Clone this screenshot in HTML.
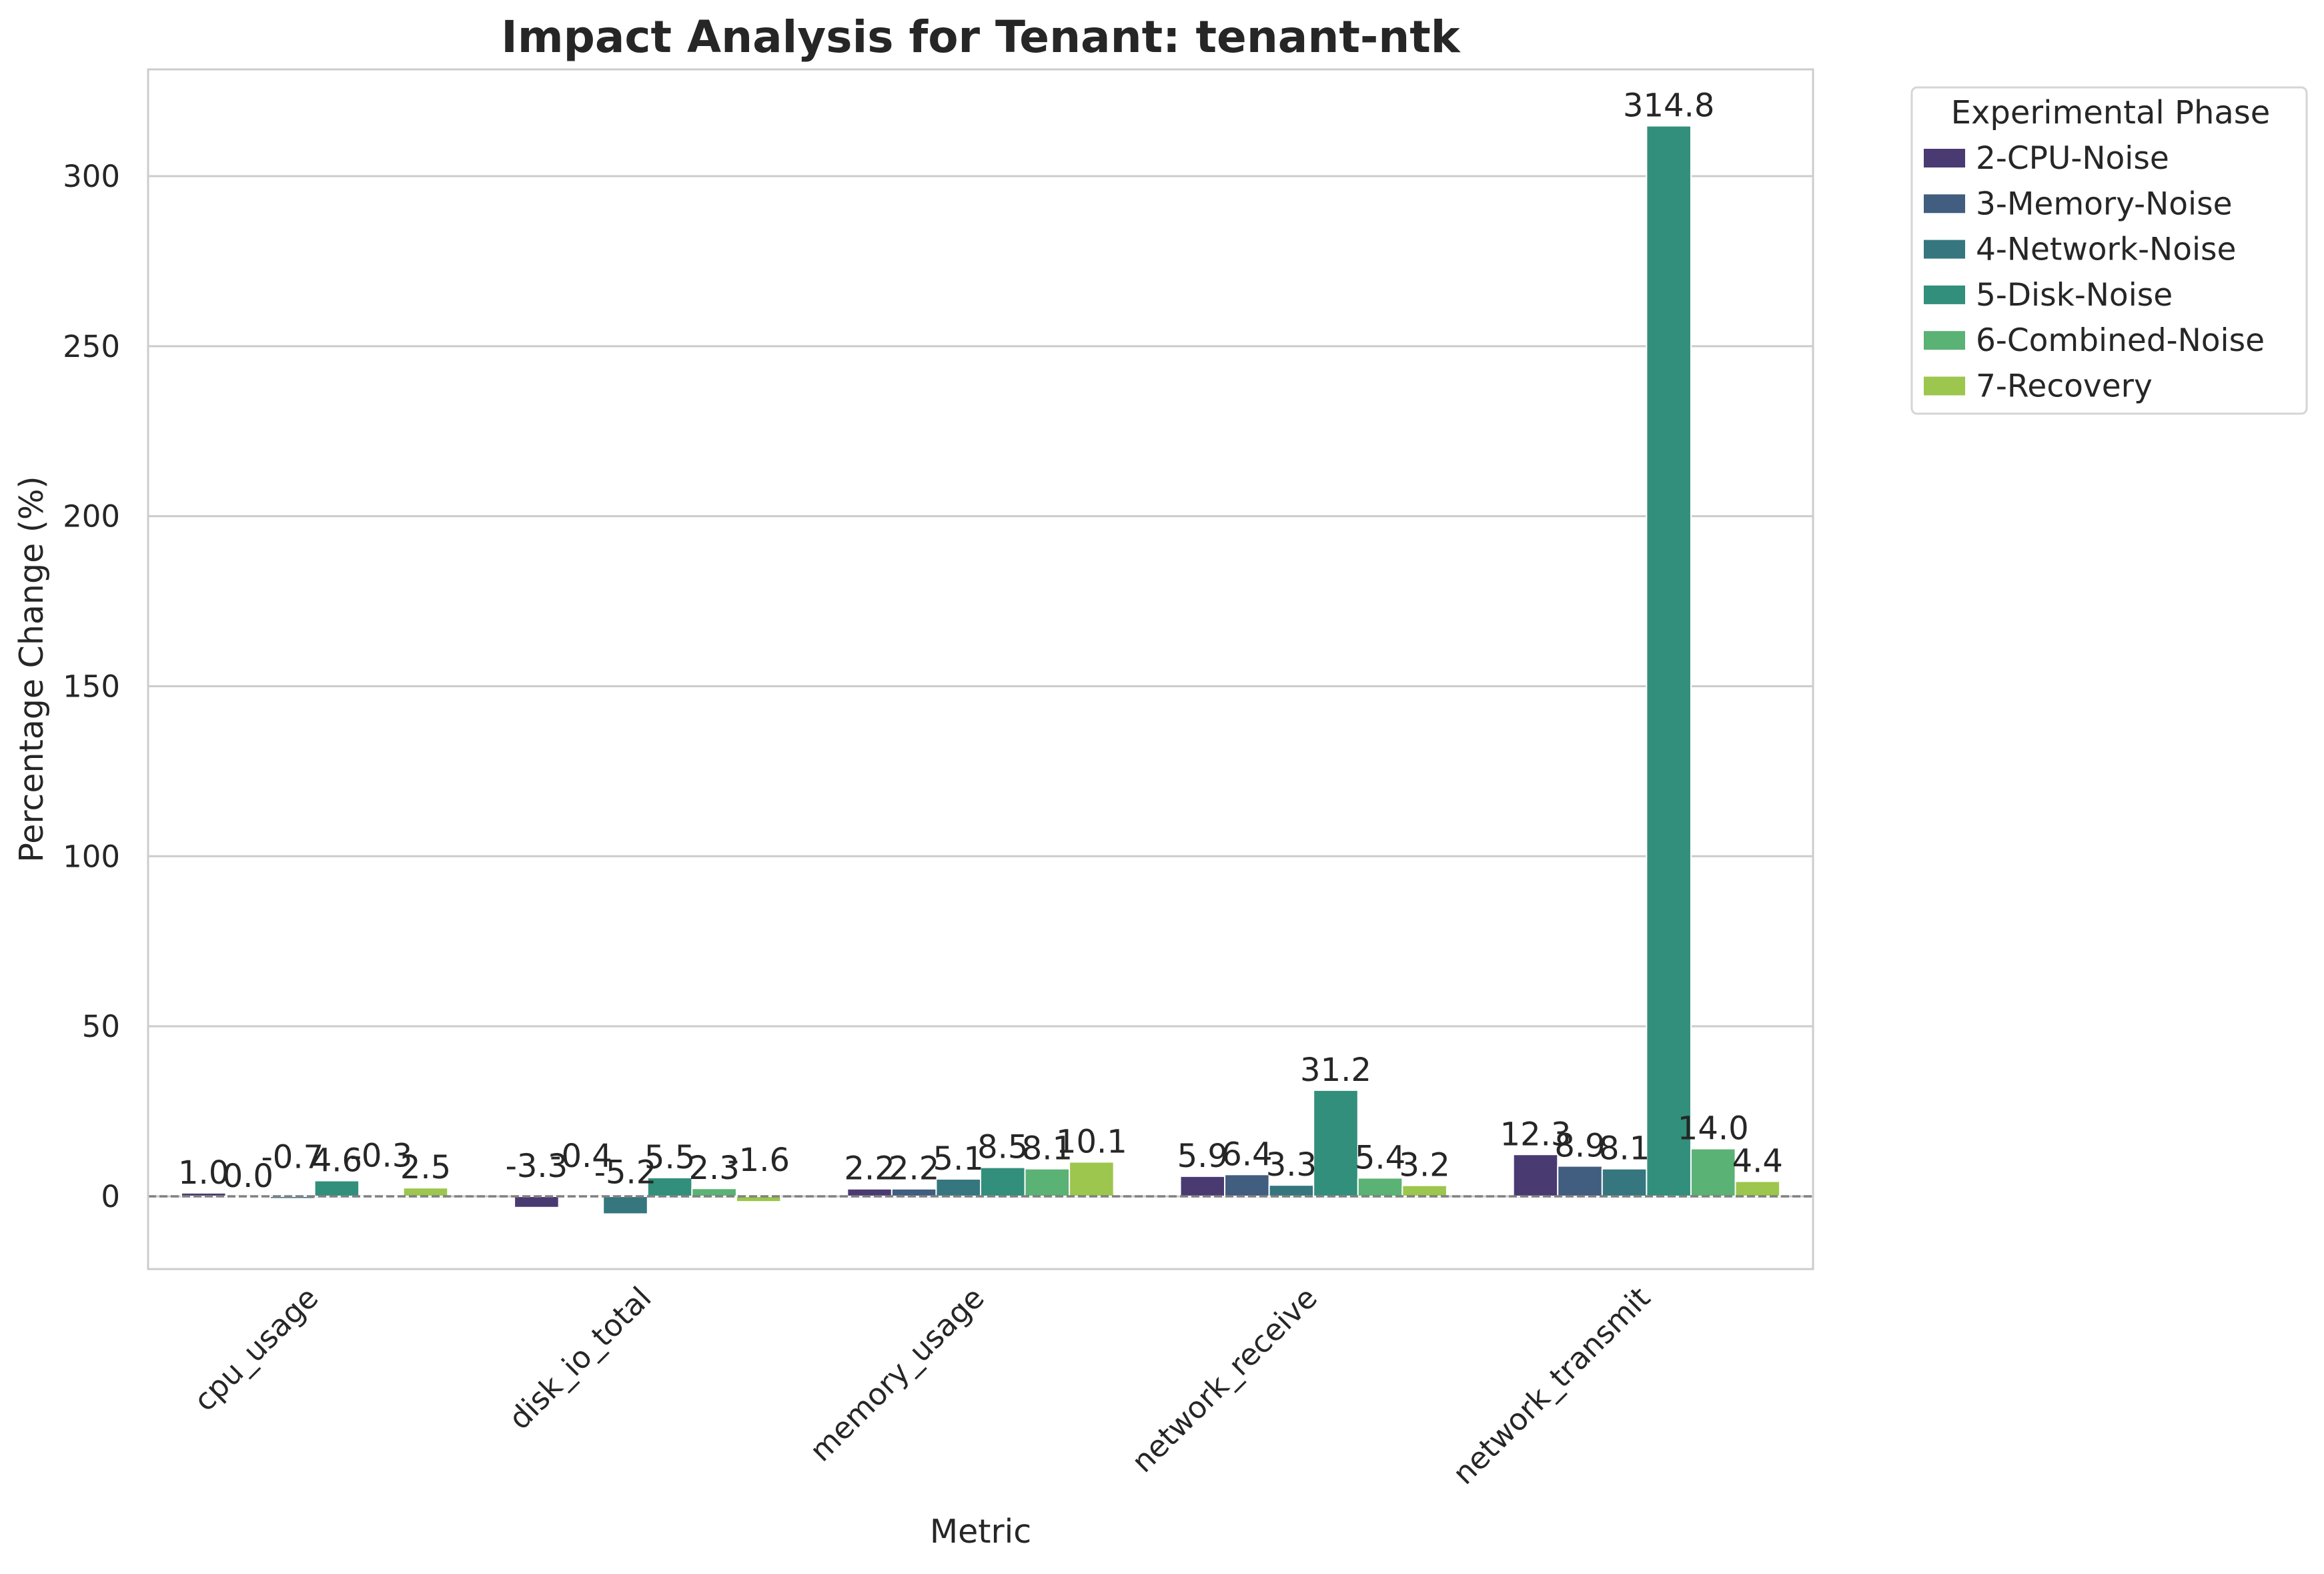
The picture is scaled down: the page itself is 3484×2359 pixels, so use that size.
<!DOCTYPE html>
<html><head><meta charset="utf-8"><style>
html,body{margin:0;padding:0;background:#fff;}
svg text{font-family:"DejaVu Sans","Liberation Sans",sans-serif;fill:#262626;}
</style></head><body>
<svg id="chart" width="3484" height="2354" xmlns="http://www.w3.org/2000/svg">
<rect x="0" y="0" width="3484" height="2354" fill="#fff"/>
<g id="grid"></g>
<g id="bars"></g>
<g id="labels"></g>
<rect x="222" y="104" width="2496" height="1798" fill="none" stroke="#cccccc" stroke-width="3"/>
<text x="1470" y="78" font-size="66" font-weight="bold" text-anchor="middle">Impact Analysis for Tenant: tenant-ntk</text>
<text x="0" y="0" font-size="49" text-anchor="middle" transform="translate(64,1003) rotate(-90)">Percentage Change (%)</text>
<text x="1470" y="2312" font-size="49" text-anchor="middle">Metric</text>
<g id="legend">
<rect x="2866" y="131" width="592" height="489" rx="8" fill="#fff" stroke="#d5d5d5" stroke-width="3"/>
<text x="3164" y="185" font-size="48" text-anchor="middle">Experimental Phase</text>
</g>
</svg>
<script>
const categories = ["cpu_usage","disk_io_total","memory_usage","network_receive","network_transmit"];
const phases = ["2-CPU-Noise","3-Memory-Noise","4-Network-Noise","5-Disk-Noise","6-Combined-Noise","7-Recovery"];
const cpuVals = [1.0, 0.0, -0.7, 4.6, -0.3, 2.5];
const diskVals = [-3.3, -0.4, -5.2, 5.5, 2.3, -1.6];
const memVals = [2.2, 2.2, 5.1, 8.5, 8.1, 10.1];
const recvVals = [5.9, 6.4, 3.3, 31.2, 5.4, 3.2];
const txVals = [12.3, 8.9, 8.1, 314.8, 14.0, 4.4];
const yTicks = [0, 50, 100, 150, 200, 250, 300];
const colors = ["#4a3a72","#415d7f","#35767f","#318f7c","#5ab274","#9cc64d"];

const seriesByCat = [cpuVals, diskVals, memVals, recvVals, txVals];
const NS = "http://www.w3.org/2000/svg";
const X0 = 222, X1 = 2718, Y0 = 104, Y1 = 1902;
const yMin = -21.4, yMax = 331.4;
function yScale(v){ return Y1 - (v - yMin) / (yMax - yMin) * (Y1 - Y0); }
function xScale(i){ return X0 + (i + 0.5) / categories.length * (X1 - X0); }
const catW = (X1 - X0) / categories.length;
const barW = catW * 0.8 / phases.length;
function mk(tag, attrs, parent){ const e = document.createElementNS(NS, tag); for (const k in attrs) e.setAttribute(k, attrs[k]); parent.appendChild(e); return e; }

const grid = document.getElementById('grid');
yTicks.forEach(t => {
  const y = yScale(t);
  const l = mk('line', {x1: X0, x2: X1, y1: y, y2: y, stroke: '#cccccc', 'stroke-width': 3}, grid);
  
  
  const tx = mk('text', {x: 180, y: y + 16, 'font-size': 45, 'text-anchor': 'end'}, grid);
  tx.textContent = t;
  
  
});
categories.forEach((c, i) => {
  const cx = xScale(i);
  const tx = mk('text', {x: 0, y: 0, 'font-size': 45, 'text-anchor': 'end', transform: `translate(${cx + 8},${1948}) rotate(-45)`}, grid);
  tx.textContent = c;
  
  
});

const bars = document.getElementById('bars');
const labels = document.getElementById('labels');
seriesByCat.forEach((vals, ci) => {
  vals.forEach((v, pi) => {
    const x = xScale(ci) - catW * 0.4 + pi * barW;
    const yTop = yScale(Math.max(v, 0)), yBot = yScale(Math.min(v, 0));
    const r = mk('rect', {x: x, y: yTop, width: barW, height: Math.max(yBot - yTop, 0.5), fill: colors[pi], stroke: '#fff', 'stroke-width': 2}, bars);
    
    
    const ly = v >= 0 ? yTop - 14 : yBot - 46;
    const t = mk('text', {x: x + barW / 2, y: ly, 'font-size': 48, 'text-anchor': 'middle'}, labels);
    t.textContent = v.toFixed(1);
    
    
  });
});
const zl = mk('line', {x1: X0, x2: X1, y1: yScale(0), y2: yScale(0), stroke: '#808080', 'stroke-width': 3.5, 'stroke-dasharray': '12,5'}, bars);



const legend = document.getElementById('legend');
phases.forEach((p, i) => {
  const y = 237 + i * 68.3;
  const r = mk('rect', {x: 2884, y: y - 14, width: 62, height: 28, fill: colors[i]}, legend);
  
  
  const t = mk('text', {x: 2962, y: y + 16, 'font-size': 47}, legend);
  t.textContent = p;
  
  
});
</script>
</body></html>
